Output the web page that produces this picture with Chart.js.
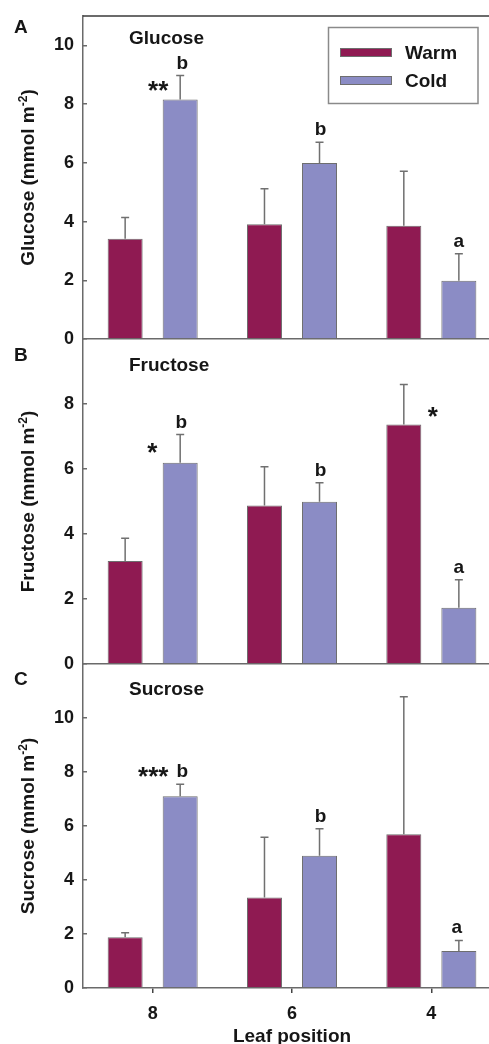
<!DOCTYPE html>
<html>
<head>
<meta charset="utf-8">
<script src="https://cdn.jsdelivr.net/npm/chart.js@4"></script>
<style>
  html, body { margin: 0; padding: 0; background: #fff; overflow: hidden; width: 489px; height: 1044px; }
  canvas { position: absolute; left: 0; }
</style>
</head>
<body>
<canvas id="chartA" width="510" height="375" style="top:-10px"></canvas>
<canvas id="chartB" width="510" height="377" style="top:313px"></canvas>
<canvas id="chartC" width="510" height="412" style="top:638px"></canvas>
<script>
// data (mean, and +error above the mean)
var leafPositions = ['8', '6', '4'];

var glucoseWarm = [3.41, 3.91, 3.86];
var glucoseWarmErr = [0.73, 1.21, 1.85];
var glucoseCold = [8.16, 5.99, 1.98];
var glucoseColdErr = [0.81, 0.71, 0.92];
var glucoseTicks = [0, 2, 4, 6, 8, 10];

var fructoseWarm = [3.17, 4.88, 7.37];
var fructoseWarmErr = [0.70, 1.19, 1.23];
var fructoseCold = [6.19, 4.99, 1.73];
var fructoseColdErr = [0.87, 0.59, 0.86];
var fructoseTicks = [0, 2, 4, 6, 8];

var sucroseWarm = [1.88, 3.35, 5.69];
var sucroseWarmErr = [0.17, 2.23, 5.10];
var sucroseCold = [7.10, 4.90, 1.37];
var sucroseColdErr = [0.45, 1.00, 0.39];
var sucroseTicks = [0, 2, 4, 6, 8, 10];

// significance marks: ds 0 = Warm, 1 = Cold
var glucoseNotes = [
    { text: '**', ds: 1, i: 0, dx: -22, dy: 23 },
    { text: 'b', ds: 1, i: 0, dx: 2, dy: -7 },
    { text: 'b', ds: 1, i: 1, dx: 1, dy: -7 },
    { text: 'a', ds: 1, i: 2, dx: 0, dy: -7 }
];
var fructoseNotes = [
    { text: '*', ds: 1, i: 0, dx: -28, dy: 26 },
    { text: 'b', ds: 1, i: 0, dx: 1, dy: -7 },
    { text: 'b', ds: 1, i: 1, dx: 1, dy: -7 },
    { text: '*', ds: 0, i: 2, dx: 29, dy: 40 },
    { text: 'a', ds: 1, i: 2, dx: 0, dy: -7 }
];
var sucroseNotes = [
    { text: '***', ds: 1, i: 0, dx: -27, dy: 1 },
    { text: 'b', ds: 1, i: 0, dx: 2, dy: -7 },
    { text: 'b', ds: 1, i: 1, dx: 1, dy: -7 },
    { text: 'a', ds: 1, i: 2, dx: -2, dy: -7 }
];

var FONT = "'Liberation Sans', Arial, Helvetica, sans-serif";
var warmColor = '#8f1a52';
var coldColor = '#8b8cc5';
var barEdge = '#6e6e6e';
var axisColor = '#6a6a6a';
var textColor = '#161616';

function bold(size) {
    return 'bold ' + size + 'px ' + FONT;
}

var panelPlugin = {
    id: 'panel',
    afterDatasetsDraw: function (chart, args, opts) {
        var ctx = chart.ctx;
        var area = chart.chartArea;
        var y = chart.scales.y;
        ctx.save();

        // error bars (upper only)
        chart.data.datasets.forEach(function (ds, di) {
            chart.getDatasetMeta(di).data.forEach(function (bar, i) {
                var top = y.getPixelForValue(ds.data[i] + ds.errors[i]);
                ctx.strokeStyle = '#707070';
                ctx.lineWidth = 1.5;
                ctx.beginPath();
                ctx.moveTo(bar.x, bar.y);
                ctx.lineTo(bar.x, top);
                ctx.moveTo(bar.x - 4, top);
                ctx.lineTo(bar.x + 4, top);
                ctx.stroke();
            });
        });

        // letters and stars
        ctx.fillStyle = textColor;
        ctx.textAlign = 'center';
        ctx.textBaseline = 'alphabetic';
        opts.notes.forEach(function (n) {
            var ds = chart.data.datasets[n.ds];
            var bar = chart.getDatasetMeta(n.ds).data[n.i];
            var top = y.getPixelForValue(ds.data[n.i] + ds.errors[n.i]);
            ctx.font = n.text.charAt(0) === '*' ? bold(26) : bold(19);
            ctx.fillText(n.text, bar.x + n.dx, top + n.dy);
        });

        // frame top
        if (opts.frameTop) {
            ctx.strokeStyle = '#3a3a3a';
            ctx.lineWidth = 1.5;
            ctx.beginPath();
            ctx.moveTo(area.left, area.top);
            ctx.lineTo(area.right, area.top);
            ctx.stroke();
        }

        // panel letter and title
        ctx.textAlign = 'left';
        ctx.font = bold(19);
        ctx.fillText(opts.letter, 14, area.top + opts.letterY);
        ctx.fillText(opts.title, 129, area.top + opts.titleY);

        // legend
        if (opts.legend) {
            var lx = 328.5, ly = area.top + 11.5;
            ctx.strokeStyle = '#8a8a8a';
            ctx.lineWidth = 1.5;
            ctx.strokeRect(lx, ly, 149.5, 76);
            chart.data.datasets.forEach(function (ds, di) {
                var sy = area.top + 32 + di * 28;
                ctx.fillStyle = ds.backgroundColor;
                ctx.fillRect(340, sy, 52, 9);
                ctx.strokeStyle = barEdge;
                ctx.lineWidth = 1;
                ctx.strokeRect(340.5, sy + 0.5, 51, 8);
                ctx.fillStyle = textColor;
                ctx.fillText(ds.label, 405, area.top + 43 + di * 28);
            });
        }

        // rotated y title with superscript
        var main = opts.yTitle + ' (mmol m';
        var sup = '-2';
        var end = ')';
        ctx.font = bold(19);
        var w1 = ctx.measureText(main).width;
        var w3 = ctx.measureText(end).width;
        ctx.font = bold(12);
        var w2 = ctx.measureText(sup).width;
        var x0 = -(w1 + w2 + w3) / 2;
        ctx.translate(27, (area.top + area.bottom) / 2);
        ctx.rotate(-Math.PI / 2);
        ctx.fillStyle = textColor;
        ctx.textAlign = 'left';
        ctx.font = bold(19);
        ctx.fillText(main, x0, 7);
        ctx.font = bold(12);
        ctx.fillText(sup, x0 + w1, 0);
        ctx.font = bold(19);
        ctx.fillText(end, x0 + w1 + w2, 7);

        ctx.restore();
    }
};

function makeChart(id, cfg) {
    var xScale;
    if (cfg.showX) {
        xScale = {
            afterFit: function (s) { s.height = cfg.xHeight; },
            grid: { display: true, offset: false, drawOnChartArea: false, tickLength: 5, color: '#444', lineWidth: 1.5 },
            border: { display: true, color: axisColor, width: 1.5 },
            ticks: { padding: 10, color: textColor, font: { family: FONT, size: 18, weight: 'bold' } },
            title: { display: true, text: 'Leaf position', color: textColor, padding: { top: 0, bottom: 2 },
                font: { family: FONT, size: 19, weight: 'bold' } }
        };
    } else {
        xScale = {
            afterFit: function (s) { s.height = 0; },
            grid: { display: false },
            border: { display: true, color: axisColor, width: 1.5 },
            ticks: { display: false }
        };
    }

    return new Chart(document.getElementById(id), {
        type: 'bar',
        data: {
            labels: leafPositions,
            datasets: [
                { label: 'Warm', data: cfg.warm, errors: cfg.warmErr, backgroundColor: warmColor,
                  borderColor: barEdge, borderWidth: 1, categoryPercentage: 0.79, barPercentage: 0.636 },
                { label: 'Cold', data: cfg.cold, errors: cfg.coldErr, backgroundColor: coldColor,
                  borderColor: barEdge, borderWidth: 1, categoryPercentage: 0.79, barPercentage: 0.636 }
            ]
        },
        options: {
            responsive: false,
            animation: false,
            layout: { padding: cfg.padding },
            plugins: {
                legend: { display: false },
                tooltip: { enabled: false },
                panel: {
                    notes: cfg.notes, letter: cfg.letter, letterY: cfg.letterY,
                    title: cfg.title, titleY: cfg.titleY, yTitle: cfg.title,
                    legend: cfg.legend, frameTop: cfg.frameTop
                }
            },
            scales: {
                x: xScale,
                y: {
                    min: 0,
                    max: cfg.max,
                    afterBuildTicks: function (s) {
                        s.ticks = cfg.ticks.map(function (v) { return { value: v }; });
                    },
                    afterFit: function (s) { s.width = 83; },
                    border: { display: true, color: axisColor, width: 1.5 },
                    grid: { display: true, drawOnChartArea: false, tickLength: -4, color: axisColor, lineWidth: 1.5 },
                    ticks: { padding: 13, color: textColor, font: { family: FONT, size: 18, weight: 'bold' } }
                }
            }
        },
        plugins: [panelPlugin]
    });
}

// canvases reach past each plot so the axis label padding does not push the plot areas
makeChart('chartA', {
    warm: glucoseWarm, warmErr: glucoseWarmErr, cold: glucoseCold, coldErr: glucoseColdErr,
    max: 11, ticks: glucoseTicks, notes: glucoseNotes,
    letter: 'A', letterY: 17, title: 'Glucose', titleY: 28,
    legend: true, frameTop: true, showX: false,
    padding: { top: 26, left: 0, right: 9, bottom: 26 }
});

makeChart('chartB', {
    warm: fructoseWarm, warmErr: fructoseWarmErr, cold: fructoseCold, coldErr: fructoseColdErr,
    max: 10, ticks: fructoseTicks, notes: fructoseNotes,
    letter: 'B', letterY: 22, title: 'Fructose', titleY: 31.5,
    legend: false, frameTop: false, showX: false,
    padding: { top: 26, left: 0, right: 9, bottom: 26 }
});

makeChart('chartC', {
    warm: sucroseWarm, warmErr: sucroseWarmErr, cold: sucroseCold, coldErr: sucroseColdErr,
    max: 12, ticks: sucroseTicks, notes: sucroseNotes,
    letter: 'C', letterY: 21, title: 'Sucrose', titleY: 31,
    legend: false, frameTop: false, showX: true, xHeight: 62,
    padding: { top: 26, left: 0, right: 9, bottom: 0 }
});
</script>
</body>
</html>
